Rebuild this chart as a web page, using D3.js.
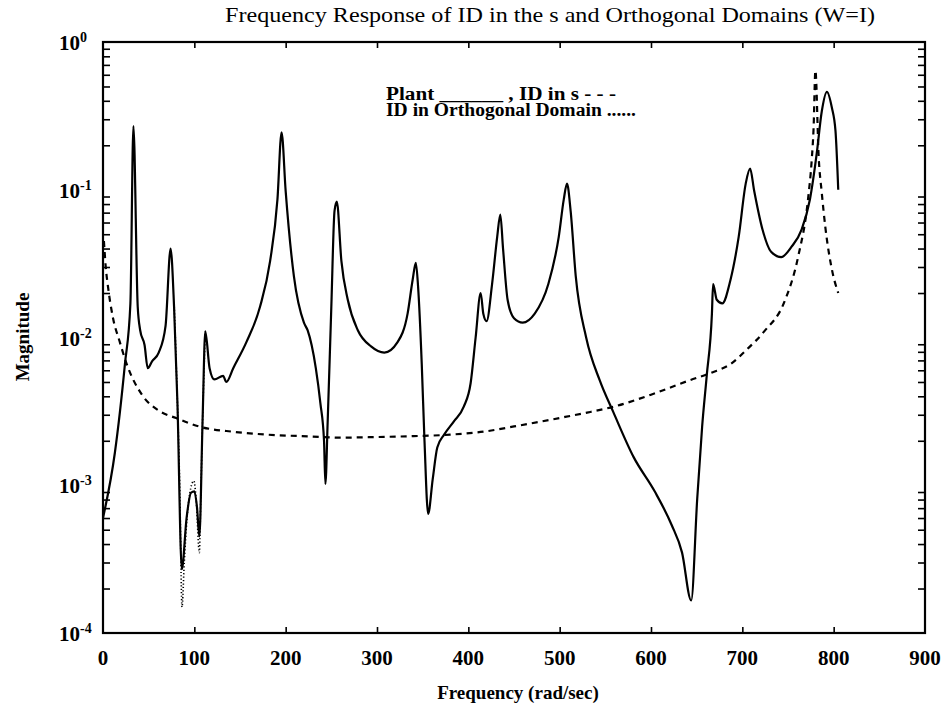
<!DOCTYPE html>
<html>
<head>
<meta charset="utf-8">
<script src="https://cdn.jsdelivr.net/npm/d3@7"></script>
<style>
body { margin: 0; background: #fff; }
text { font-family: "Liberation Serif", "Times New Roman", serif; fill: #000; }
</style>
</head>
<body>
<svg id="chart" width="943" height="717"></svg>
<script>
// plant (solid)
var plantFreq = [0, 13, 24, 30, 33.3, 38, 40.7, 45.5, 49, 53.7, 61, 68.5, 74, 77.8, 81.5, 86.3, 91.5, 96.3, 100, 103, 105.5, 109, 112,
    116.7, 122, 131.5, 135, 142.6, 157, 172, 183, 191, 195.5, 200, 209, 220, 224, 233, 238, 242, 243.5, 246, 250, 253.5, 256,
    261, 268, 279, 293.5, 308, 322.5, 333.5, 339, 342.5, 345, 349, 352, 356, 361, 366, 373.5, 384, 395, 402.5, 408, 413.5,
    416.4, 420, 426, 431.6, 435, 438, 443, 450, 459.5, 472.7, 487.6, 499, 504.5, 508, 512, 517.6, 529, 544, 559, 581, 604,
    622.5, 634, 644, 650.6, 656, 661, 666.7, 668, 672, 678, 687, 696, 703.7, 708.5, 713, 722, 731.5, 742.6, 753.7, 765, 774,
    781.5, 787, 792.6, 798, 802, 805];
var plantMag = [6.0e-4, 1.66e-3, 6.6e-3, 0.017, 0.27, 0.0162, 0.0112, 0.0089, 0.0062, 0.0069, 0.0079, 0.012, 0.04, 0.0162, 0.0036,
    2.7e-4, 6.0e-4, 8.9e-4, 9.1e-4, 7e-4, 4.5e-4, 2.7e-3, 0.011,
    0.0062, 0.0052, 0.0055, 0.005, 0.0062, 0.0093, 0.0162, 0.033, 0.086, 0.245, 0.098, 0.026, 0.0126, 0.0112, 0.0062, 0.0036, 0.002, 0.00102, 0.0027, 0.0162, 0.072, 0.083,
    0.033, 0.018, 0.0112, 0.0087, 0.0079, 0.0093, 0.0145, 0.0245, 0.032, 0.022, 0.0066, 0.002, 6.4e-4, 0.0011, 0.0018, 0.0022, 0.0027, 0.0034, 0.0049, 0.01, 0.02,
    0.0145, 0.0129, 0.023, 0.048, 0.068, 0.04, 0.018, 0.0135, 0.0126, 0.0145, 0.023, 0.048, 0.086, 0.11, 0.072, 0.026, 0.01, 0.0051, 0.0031, 0.00155, 9.1e-4,
    5.4e-4, 3.5e-4, 1.66e-4, 8.1e-4, 0.0025, 0.0055, 0.0145, 0.023, 0.018, 0.017, 0.0245, 0.048, 0.11, 0.139, 0.098, 0.054, 0.038, 0.035, 0.041, 0.054, 0.086,
    0.177, 0.34, 0.46, 0.36, 0.25, 0.10];

// ID in s (dashed)
var sFreq = [1, 3, 5.5, 11, 18, 26, 42.6, 61, 80, 105, 143, 180, 227, 260, 300, 340, 380, 420, 450, 480, 506, 530, 559, 600, 641, 667,
    687, 705, 724, 746, 761, 772, 776, 778, 780, 783.6, 787, 791, 798, 805];
var sMag = [0.045, 0.03, 0.022, 0.0135, 0.0095, 0.0066, 0.0041, 0.0032, 0.00285, 0.0025, 0.0023, 0.0022, 0.00214, 0.0021, 0.00212,
    0.00215, 0.0022, 0.00232, 0.0025, 0.0027, 0.0029, 0.0031, 0.0034, 0.0041, 0.0051, 0.0058,
    0.0066, 0.0083, 0.011, 0.0174, 0.035, 0.087, 0.16, 0.26, 0.64, 0.166, 0.095, 0.055, 0.029, 0.02];

// ID in orthogonal domain (dotted), only visible where it leaves the plant curve
var orthFreq = [78, 81.5, 84, 86.5, 89, 92, 96, 99.5, 102, 105.5, 107, 109, 112];
var orthMag = [0.0162, 0.0036, 0.001, 1.5e-4, 3e-4, 6e-4, 9.5e-4, 1.07e-3, 8e-4, 3.5e-4, 8e-4, 0.0027, 0.011];

var xTicks = [0, 100, 200, 300, 400, 500, 600, 700, 800, 900];
var yDecades = [0, -1, -2, -3, -4];

var mLeft = 103, mRight = 925, mTop = 42, mBottom = 633;

var svg = d3.select("#chart");

var x = d3.scaleLinear().domain([0, 900]).range([mLeft, mRight]);
var y = d3.scaleLog().domain([1e-4, 1]).range([mBottom, mTop]);

var line = d3.line()
    .x(function(d) { return x(d[0]); })
    .y(function(d) { return y(d[1]); })
    .curve(d3.curveMonotoneX);

function pairs(fs, ms) {
    return fs.map(function(f, i) { return [f, ms[i]]; });
}

// minor log ticks
var minor = [];
for (var e = -4; e < 0; e++) {
    for (var k = 2; k <= 9; k++) minor.push(k * Math.pow(10, e));
}

var axL = d3.axisLeft(y).tickValues(minor).tickSize(-7).tickFormat("");
var axR = d3.axisRight(y).tickValues(minor).tickSize(-7).tickFormat("");
svg.append("g").attr("transform", "translate(" + mLeft + ",0)").call(axL);
svg.append("g").attr("transform", "translate(" + mRight + ",0)").call(axR);

var axB = d3.axisBottom(x).tickValues(xTicks.slice(1, -1)).tickSize(-6).tickFormat("");
var axT = d3.axisTop(x).tickValues(xTicks.slice(1, -1)).tickSize(-6).tickFormat("");
svg.append("g").attr("transform", "translate(0," + mBottom + ")").call(axB);
svg.append("g").attr("transform", "translate(0," + mTop + ")").call(axT);

svg.selectAll(".domain").remove();
svg.selectAll(".tick line").attr("stroke", "#000").attr("stroke-width", 1.6);

// frame
svg.append("rect")
    .attr("x", mLeft).attr("y", mTop)
    .attr("width", mRight - mLeft).attr("height", mBottom - mTop)
    .attr("fill", "none").attr("stroke", "#000").attr("stroke-width", 2.2);

// x labels
svg.selectAll(".xl").data(xTicks).enter().append("text")
    .attr("x", function(d) { return x(d); })
    .attr("y", mBottom + 32)
    .attr("text-anchor", "middle")
    .style("font-size", "21px").style("font-weight", "bold")
    .text(function(d) { return d; });

// y labels
var yl = svg.selectAll(".yl").data(yDecades).enter().append("text")
    .attr("x", mLeft - 44)
    .attr("y", function(d) { return y(Math.pow(10, d)) + 8; })
    .style("font-size", "21px").style("font-weight", "bold");
yl.append("tspan").text("10");
yl.append("tspan").attr("dy", -8).style("font-size", "14px").text(function(d) { return d; });

// curves
svg.append("path").datum(pairs(orthFreq, orthMag))
    .attr("d", line).attr("fill", "none").attr("stroke", "#000")
    .attr("stroke-width", 1.6).attr("stroke-dasharray", "1.2,2.2");

svg.append("path").datum(pairs(sFreq, sMag))
    .attr("d", line).attr("fill", "none").attr("stroke", "#000")
    .attr("stroke-width", 2.2).attr("stroke-dasharray", "6,5");

svg.append("path").datum(pairs(plantFreq, plantMag))
    .attr("d", line).attr("fill", "none").attr("stroke", "#000")
    .attr("stroke-width", 2.2);

// title and axis titles
svg.append("text")
    .attr("x", 550).attr("y", 22)
    .attr("text-anchor", "middle")
    .attr("textLength", 650).attr("lengthAdjust", "spacingAndGlyphs")
    .style("font-size", "22px")
    .text("Frequency Response of ID in the s and Orthogonal Domains (W=I)");

svg.append("text")
    .attr("x", 518).attr("y", 699)
    .attr("text-anchor", "middle")
    .style("font-size", "19px").style("font-weight", "bold")
    .text("Frequency (rad/sec)");

svg.append("text")
    .attr("transform", "translate(29,337) rotate(-90)")
    .attr("text-anchor", "middle")
    .style("font-size", "19px").style("font-weight", "bold")
    .text("Magnitude");

// legend text
svg.append("text")
    .attr("x", 386).attr("y", 100)
    .attr("textLength", 230).attr("lengthAdjust", "spacingAndGlyphs")
    .style("font-size", "18px").style("font-weight", "bold")
    .text("Plant ______ , ID in s - - -");
svg.append("text")
    .attr("x", 386).attr("y", 116)
    .attr("textLength", 250).attr("lengthAdjust", "spacingAndGlyphs")
    .style("font-size", "18px").style("font-weight", "bold")
    .text("ID in Orthogonal Domain ......");
</script>
</body>
</html>
